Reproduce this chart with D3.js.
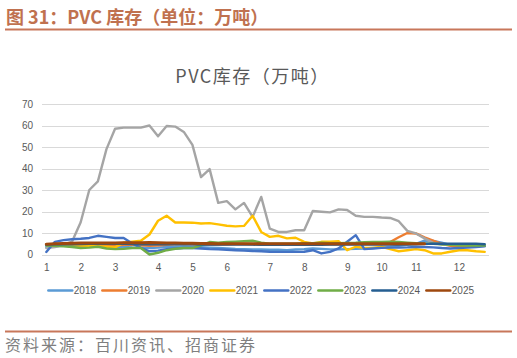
<!DOCTYPE html>
<html><head><meta charset="utf-8">
<script src="https://cdn.jsdelivr.net/npm/d3@7"></script>
<style>
body{margin:0;background:#fff;}
svg{display:block;}
</style></head>
<body>
<svg id="c" width="517" height="358"></svg>
<script>
// ---- data ----
const weekLabels = ["1","","","","2","","","","3","","","","","4","","","","5","","","","6","","","","","7","","","","8","","","","","9","","","","10","","","","11","","","","","12","","",""];
const years = ["2018","2019","2020","2021","2022","2023","2024","2025"];
const colors = ["#5B9BD5","#ED7D31","#A5A5A5","#FFC000","#4472C4","#70AD47","#255E91","#9E480E"];
const yTicks = [0,10,20,30,40,50,60,70];

const s2018 = [3.5,3.8,4,4.2,4.5,4.3,4,3.8,3.5,3.5,3.3,3.2,3,3.2,3.5,3.6,3.8,3.6,3.4,3.2,3,2.8,2.6,2.5,2.4,2.3,2.2,2.2,2.0,2.3,2.5,2.8,2.6,2.4,2.4,2.5,2.6,2.8,3,3.2,3.5,4,4.5,5,6.5,6.3,5.5,4.5,4,3.8,3.8,4];
const s2019 = [4.5,4.5,4.3,4.2,4,3.8,3.8,4,4.2,4.5,4.5,4.3,4,4.2,4.5,4.8,5,4.8,4.5,4.5,4.6,4.8,5,5,4.8,4.6,4.5,4.5,4.6,4.8,5,5,5,4.8,4.8,5,5,5,5.2,5.5,5.8,8,10,9.8,8,6.5,5,4,3.5,3.8,4,4];
const s2020 = [3,3.5,4.5,6,15,30,34,49,58.5,59,59,59,60,55,59.8,59.5,57,51,36,39.7,24,24.8,21,24,17.5,26.8,12,10.5,10.5,11.3,11.3,20.2,19.9,19.6,21,20.7,18,17.5,17.5,17.2,17,15.5,11,9.8,7.5,5.4,4.6,4.5,4.5,4.5,4.5,4.5];
const s2021 = [4.5,4.5,4.5,4.3,4.2,4,3.8,3.6,3.3,5.5,6,6.4,9.3,15.7,18,14.9,14.9,14.8,14.4,14.6,14,13.4,13.1,13.3,18,10.5,8.2,8.7,7.5,7.8,5.9,5.1,5.9,5.9,6.2,2,3.6,3.1,3.1,3.6,2.5,1.5,2,2.5,2,0.5,0.5,1.3,2,2,1.5,1.2];
const s2022 = [1.2,5.9,6.7,7.1,7.3,7.7,8.7,8.2,7.7,7.7,5.1,3.1,1.5,1.8,2.5,2.8,3,3,2.8,2.5,2.4,2.2,2,1.8,1.6,1.5,1.3,1.2,1.2,1.2,1.3,2,0.5,1.2,2.8,5.9,9,2.5,2.8,3.1,3.2,3.2,3.3,3.5,3.5,3.3,3,2.8,3,3.2,3.5,3.8];
const s2023 = [4.2,4,3.8,3.5,3,3.2,3.6,2.8,2.5,2.6,3,3,0,0.8,2,2.7,3,3,4.3,5.8,5.5,5.8,6,6.2,6.4,5.5,5,5,5,5,5.2,5.3,5.5,5.3,5.2,5.4,5.5,5.7,5.8,5.8,6,5.8,5.5,5.2,5,5,4.8,4.5,4.3,4.2,4.2,4.2];
const s2024 = [4.6,4.7,4.8,4.8,4.9,5,5,5,5,5,4.9,4.8,4.8,4.8,4.7,4.7,4.7,4.7,4.6,4.6,4.6,4.6,4.6,4.6,4.6,4.5,4.5,4.5,4.5,4.5,4.5,4.5,4.5,4.6,4.6,4.6,4.6,4.6,4.6,4.6,4.6,4.6,4.7,4.8,5,5,5,5,5,5,5,4.8];
const s2025 = [4.8,5,5.1,5.2,5.3,5.3,5.4,5.4,5.4,5.5,5.5,5.5,5.6,5.5,5.4,5.3,5.2,5.2,5.1,5.1,5,5,5,5,5,5,5,5,5,5,5,5,5,5,5,5,5,5,5,5,5,5,5,5,5];
const seriesData = [s2018,s2019,s2020,s2021,s2022,s2023,s2024,s2025];

// ---- drawing ----
const svg = d3.select("#c");
const accent = "#C0714F";
const grey = "#595959";

// header
svg.append("text").attr("x",6).attr("y",24)
  .attr("font-family","'Noto Sans CJK SC','Noto Sans',sans-serif")
  .attr("font-size",18).attr("font-weight","bold").attr("fill",accent)
  .text("图 31：PVC 库存（单位：万吨）");
svg.append("line").attr("x1",5).attr("x2",512).attr("y1",29.5).attr("y2",29.5)
  .attr("stroke","#C8775A").attr("stroke-width",2);

// chart title
svg.append("text").attr("x",252.5).attr("y",83).attr("text-anchor","middle")
  .attr("font-family","'Noto Sans CJK SC',sans-serif")
  .attr("font-size",18).attr("letter-spacing",1.5).attr("fill",grey)
  .text("PVC库存（万吨）");

const x = d3.scalePoint().domain(d3.range(weekLabels.length)).range([42,489]).padding(0.5);
const y = d3.scaleLinear().domain([0,70]).range([254.5,104]);

// gridlines
svg.append("g").selectAll("line").data(yTicks).join("line")
  .attr("x1",42).attr("x2",489)
  .attr("y1",d=>Math.round(y(d))+0.5).attr("y2",d=>Math.round(y(d))+0.5)
  .attr("stroke","#D9D9D9").attr("stroke-width",1);

// y axis
const yAxis = svg.append("g").attr("transform","translate(42,0)")
  .call(d3.axisLeft(y).tickValues(yTicks).tickSize(0).tickPadding(9));
yAxis.select(".domain").remove();
yAxis.selectAll("text").attr("font-family","'Liberation Sans',Arial,sans-serif")
  .attr("font-size",10).attr("fill",grey);

// x axis
const xAxis = svg.append("g").attr("transform","translate(0,254.5)")
  .call(d3.axisBottom(x).tickSize(0).tickPadding(9).tickFormat(i=>weekLabels[i]));
xAxis.select(".domain").remove();
xAxis.selectAll("text").attr("font-family","'Liberation Sans',Arial,sans-serif")
  .attr("font-size",10).attr("fill",grey);

// lines
const line = d3.line().x((d,i)=>x(i)).y(d=>y(d));
svg.append("g").selectAll("path").data(seriesData).join("path")
  .attr("d",d=>line(d)).attr("fill","none")
  .attr("stroke",(d,i)=>colors[i])
  .attr("stroke-width",(d,i)=>i===7?3:2.4)
  .attr("stroke-linejoin","round").attr("stroke-linecap","round");

// legend
const lg = svg.append("g").selectAll("g").data(years).join("g")
  .attr("transform",(d,i)=>`translate(${48.3+i*54},290.5)`);
lg.append("line").attr("x1",0).attr("x2",24).attr("y1",0).attr("y2",0)
  .attr("stroke",(d,i)=>colors[i]).attr("stroke-width",2.4).attr("stroke-linecap","round");
lg.append("text").attr("x",25.5).attr("y",3.6)
  .attr("font-family","'Liberation Sans',Arial,sans-serif")
  .attr("font-size",10).attr("fill",grey).text(d=>d);

// footer
svg.append("line").attr("x1",5).attr("x2",512).attr("y1",331.5).attr("y2",331.5)
  .attr("stroke","#C8775A").attr("stroke-width",2);
svg.append("text").attr("x",5).attr("y",351)
  .attr("font-family","'Noto Sans CJK SC',sans-serif")
  .attr("font-size",16).attr("letter-spacing",2).attr("fill","#7F7F7F")
  .text("资料来源：百川资讯、招商证券");
</script>
</body></html>
